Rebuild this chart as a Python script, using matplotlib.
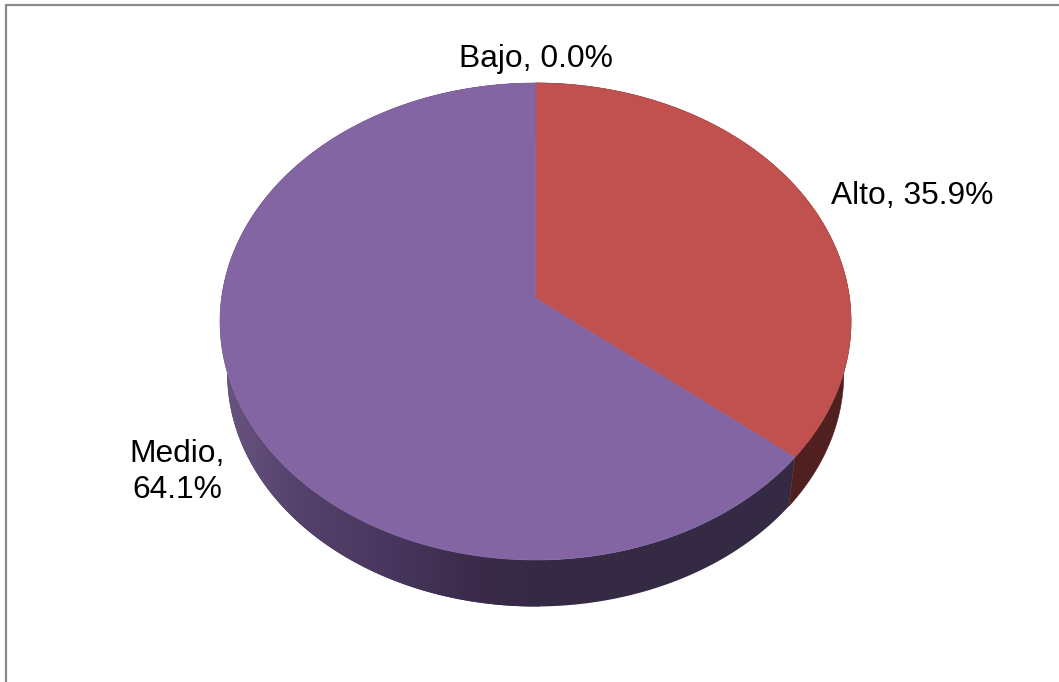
import numpy as np
import matplotlib
matplotlib.use('Agg')
import matplotlib.pyplot as plt
from matplotlib.colors import LinearSegmentedColormap
from matplotlib.patches import Polygon

plt.rcParams['font.family'] = ['Liberation Sans', 'DejaVu Sans']

CATEGORIES = ['Bajo', 'Alto', 'Medio']
VALUES_PCT = [0.0, 35.9, 64.1]

TOP_COLORS  = {'Bajo': '#4f81bd', 'Alto': '#c0514e', 'Medio': '#8365a4'}
SIDE_COLORS = {'Bajo': '#2a3f5e', 'Alto': '#4f201f', 'Medio': '#352a44'}

FONT_SIZE = 22.9

fig = plt.figure(figsize=(10.59, 6.82), dpi=100)
ax = fig.add_axes([0, 0, 1, 1])
ax.set_xlim(0, 1059)
ax.set_ylim(682, 0)
ax.axis('off')


# tilted disc: perspective projection of the unit circle, theta clockwise from 12 o'clock
def project(theta, cx=535.5, apex_y=298.0, scale=1.0):
    u = np.sin(theta)
    v = np.cos(theta)
    w = 1 + 0.0985 * v
    return cx + scale * 314.0 * u / w, apex_y - scale * 236.2 * v / w


# the purple rim darkens from the left edge towards the front
rim_cmap = LinearSegmentedColormap.from_list('rim', [
    (0.0, '#68537f'), (0.23, '#55426c'), (0.55, '#46355c'),
    (0.80, '#3a2b4a'), (1.0, '#352a44')])

# slice angles from the values
fractions = np.array(VALUES_PCT) / sum(VALUES_PCT)
edges = np.concatenate([[0], np.cumsum(fractions)]) * 2 * np.pi

# rim first, the top faces go over it
for name, a0, a1 in zip(CATEGORIES, edges[:-1], edges[1:]):
    if a1 <= a0:
        continue
    theta = np.linspace(a0, a1, 400)
    x_up, y_up = project(theta)
    x_lo, y_lo = project(theta, apex_y=350.5, scale=0.977)
    band = np.column_stack([np.concatenate([x_up, x_lo[::-1]]),
                            np.concatenate([y_up, y_lo[::-1]])])
    if name == 'Medio':
        poly = Polygon(band, closed=True, facecolor='none', edgecolor='none', transform=ax.transData)
        ax.add_patch(poly)
        grad = np.linspace(0, 1, 512).reshape(1, -1)
        im = ax.imshow(grad, cmap=rim_cmap, extent=[227, 540, 682, 0], aspect='auto',
                       interpolation='bilinear', zorder=2)
        im.set_clip_path(poly)
        # right of the gradient the rim stays flat
        flat = ax.fill(band[:, 0], band[:, 1], color=SIDE_COLORS[name], lw=0, zorder=1.9)
    else:
        ax.fill(band[:, 0], band[:, 1], color=SIDE_COLORS[name], lw=0.4, zorder=2)

ax.set_xlim(0, 1059)
ax.set_ylim(682, 0)

for name, a0, a1 in zip(CATEGORIES, edges[:-1], edges[1:]):
    if a1 <= a0:
        continue
    theta = np.linspace(a0, a1, 300)
    xs, ys = project(theta)
    xs = np.concatenate([[535.5], xs])
    ys = np.concatenate([[298.0], ys])
    ax.fill(xs, ys, color=TOP_COLORS[name], lw=0.4, zorder=3)

# data labels
labels = {}
for name, val in zip(CATEGORIES, VALUES_PCT):
    labels[name] = f'{name}, {val:.1f}%'

ax.text(536, 59, labels['Bajo'], ha='center', va='center', fontsize=FONT_SIZE, color='black')
ax.text(912, 196, labels['Alto'], ha='center', va='center', fontsize=FONT_SIZE, color='black')
ax.text(177, 472, labels['Medio'].replace(' ', '\n'), ha='center', va='center',
        fontsize=FONT_SIZE, color='black', linespacing=1.28)

# chart area border, only left and top are in frame
ax.plot([6, 6, 1059], [682, 5, 5], color='#8a8a8a', lw=1.6, solid_joinstyle='miter', zorder=1)

fig.savefig('out.png', dpi=100, facecolor='white')
